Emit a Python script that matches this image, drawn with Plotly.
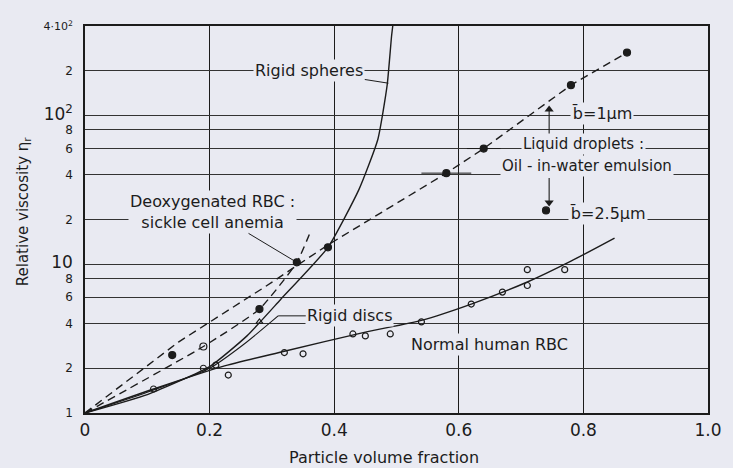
import numpy as np
import plotly.graph_objects as go

# ---------------- data ----------------
# Normal human RBC: fitted curve and open-circle measurements
rbc_curve_phi = [0, 0.11, 0.22, 0.32, 0.45, 0.54, 0.62, 0.71, 0.78, 0.85]
rbc_curve_eta = [1, 1.45, 2.05, 2.6, 3.5, 4.2, 5.4, 7.6, 10.5, 15]
rbc_phi = [0.11, 0.19, 0.21, 0.23, 0.32, 0.35, 0.43, 0.45, 0.49, 0.54, 0.62, 0.67, 0.71, 0.71, 0.77]
rbc_eta = [1.45, 2.0, 2.1, 1.8, 2.55, 2.5, 3.4, 3.3, 3.4, 4.1, 5.4, 6.5, 7.2, 9.2, 9.2]

# Rigid spheres (solid curve)
sph_phi = [0, 0.1, 0.2, 0.26, 0.314, 0.39, 0.44, 0.47, 0.485, 0.492, 0.494]
sph_eta = [1, 1.33, 2.05, 3.3, 5.8, 13, 32, 69, 160, 340, 400]

# Rigid discs (solid curve) and its marker
disc_phi = [0, 0.1, 0.2, 0.255, 0.31]
disc_eta = [1, 1.38, 2.0, 2.9, 4.5]
disc_pt_phi = [0.28]
disc_pt_eta = [4.1]

# Deoxygenated RBC, sickle cell anemia (dashed curve)
sick_phi = [0, 0.19, 0.28, 0.34, 0.363]
sick_eta = [1, 2.8, 5.0, 10.3, 17]
sick_open_phi = [0.19]
sick_open_eta = [2.8]
sick_fill_phi = [0.28, 0.34]
sick_fill_eta = [5.0, 10.3]

# Liquid droplets, oil-in-water emulsion, b = 1 um (dashed line)
drop_line_phi = [0, 0.15, 0.29, 0.39, 0.58, 0.64, 0.78, 0.87]
drop_line_eta = [1, 3.0, 7.1, 13.5, 41, 60, 160, 265]
drop_phi = [0.14, 0.39, 0.58, 0.64, 0.78, 0.87]
drop_eta = [2.45, 13, 41, 60, 160, 265]
drop_err = [0, 0, 0.04, 0.027, 0, 0]
# b = 2.5 um
drop25_phi = [0.74]
drop25_eta = [23]

# arrows linking the b-labels to the curves (phi, tail eta, tip eta)
arrow_phi = [0.745, 0.745]
arrow_tail = [73, 38]
arrow_tip = [110, 26]

x_ticks = [0, 0.2, 0.4, 0.6, 0.8, 1.0]
x_labels = ['0', '0.2', '0.4', '0.6', '0.8', '1.0']
y_ticks = [1, 2, 4, 6, 8, 10, 20, 40, 60, 80, 100, 200, 400]
big = "<span style='font-size:17px'>%s</span>"
y_labels = ['1', '2', '4', '6', '8', big % '10', '2', '4', '6', '8',
            big % '10<sup>2</sup>', '2', "<span style='font-size:11px'>4·10<sup>2</sup></span>"]

# ---------------- styling ----------------
BG = '#e9eaf2'
INK = '#1c1c1c'
FONT = 'DejaVu Sans'

fig = go.Figure()

def line(x, y, dash='solid', width=1.4, shape='spline', smoothing=0.7):
    fig.add_trace(go.Scatter(x=x, y=y, mode='lines', showlegend=False, hoverinfo='skip',
                             line=dict(color=INK, width=width, dash=dash, shape=shape, smoothing=smoothing)))

def pts(x, y, symbol, size=7, err=None):
    kw = {}
    if err is not None:
        kw['error_x'] = dict(type='data', array=err, visible=True, color=INK, thickness=1, width=0)
    fig.add_trace(go.Scatter(x=x, y=y, mode='markers', showlegend=False, hoverinfo='skip',
                             marker=dict(symbol=symbol, size=size, color=INK,
                                         line=dict(color=INK, width=1.2)), **kw))

line(rbc_curve_phi, rbc_curve_eta)
line(sph_phi, sph_eta, smoothing=0.5)
line(disc_phi, disc_eta, width=1.1)
line(sick_phi, sick_eta, dash='8px,5px', smoothing=0.5)
line(drop_line_phi, drop_line_eta, dash='8px,5px', shape='linear')

pts(rbc_phi, rbc_eta, 'circle-open', 6)
pts(disc_pt_phi, disc_pt_eta, 'triangle-up-open', 6)
pts(sick_open_phi, sick_open_eta, 'circle-open', 7)
pts(sick_fill_phi, sick_fill_eta, 'circle', 7)
pts(drop_phi, drop_eta, 'circle', 7, err=drop_err)
pts(drop25_phi, drop25_eta, 'circle', 7)

# b arrows: shaft + head
for p, t0, t1 in zip(arrow_phi, arrow_tail, arrow_tip):
    fig.add_trace(go.Scatter(x=[p, p], y=[t0, t1], mode='lines', showlegend=False, hoverinfo='skip',
                             line=dict(color=INK, width=1.1)))
    fig.add_trace(go.Scatter(x=[p], y=[t1], mode='markers', showlegend=False, hoverinfo='skip',
                             marker=dict(symbol='triangle-up' if t1 > t0 else 'triangle-down',
                                         size=8, color=INK)))

L = np.log10
ann = []

def label(text, x, y, px=None, py=None, align='center', size=16):
    a = dict(text=text, x=x, y=L(y), xref='x', yref='y', showarrow=False,
             font=dict(family=FONT, size=size, color=INK),
             bgcolor=BG, borderpad=1, align=align)
    if px is not None:
        a.update(showarrow=True, x=px, y=L(py), ax=x, ay=L(y), axref='x', ayref='y',
                 arrowhead=0, arrowwidth=1, arrowcolor=INK, standoff=0)
    ann.append(a)

label('Rigid spheres', 0.36, 200, 0.487, 165)
label('Deoxygenated RBC :<br>sickle cell anemia', 0.205, 22.5, 0.34, 10.3)
label('Rigid discs', 0.425, 4.5, 0.31, 4.5)
label('Normal human RBC', 0.65, 2.9)
label('b\u0304=1µm', 0.83, 104)
label('Liquid droplets :', 0.80, 64, size=15)
label('Oil - in-water emulsion', 0.805, 46, size=15)
label('b\u0304=2.5µm', 0.84, 22)

# axis titles
ann.append(dict(text='Relative viscosity η<sub>r</sub>', xref='paper', yref='paper', x=0, y=0.52,
                xshift=-73, textangle=-90, showarrow=False, font=dict(family=FONT, size=15, color=INK)))
ann.append(dict(text='Particle volume fraction', xref='paper', yref='paper', x=0.48, y=0,
                yshift=-44, yanchor='middle', showarrow=False, font=dict(family=FONT, size=16, color=INK)))

fig.update_layout(
    width=733, height=468,
    margin=dict(l=85, r=25, t=26, b=55),
    paper_bgcolor=BG, plot_bgcolor=BG,
    font=dict(family=FONT, color=INK),
    annotations=ann,
    showlegend=False,
)
fig.update_xaxes(range=[0, 1.0], tickvals=x_ticks, ticktext=x_labels, showgrid=True,
                 gridcolor=INK, gridwidth=1.2, showline=True, mirror=True, linecolor=INK,
                 linewidth=1.5, zeroline=False, ticks='', ticklabelstandoff=1,
                 tickfont=dict(family=FONT, size=17, color=INK))
fig.update_yaxes(type='log', range=[0, L(400)], tickvals=y_ticks, ticktext=y_labels, showgrid=True,
                 gridcolor='#333333', gridwidth=0.9, showline=True, mirror=True, linecolor=INK,
                 linewidth=1.5, zeroline=False, ticks='', ticklabelstandoff=8,
                 tickfont=dict(family=FONT, size=12, color=INK))

fig.write_html('out.html', config={'displayModeBar': False},
               post_script="document.body.style.margin='0';document.body.style.background='%s';" % BG)
